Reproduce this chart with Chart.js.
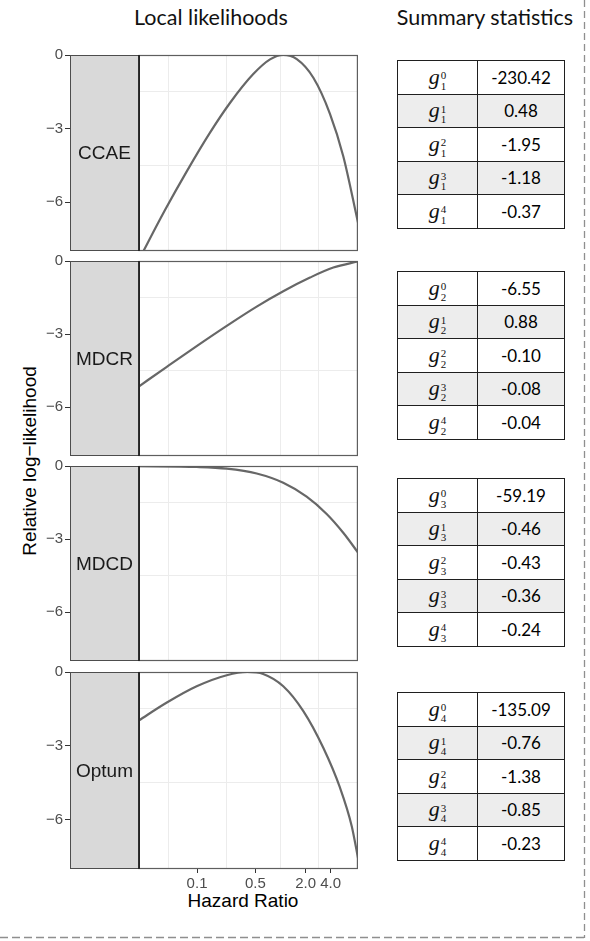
<!DOCTYPE html>
<html>
<head>
<meta charset="utf-8">
<title>Local likelihoods</title>
<script src="https://cdn.jsdelivr.net/npm/chart.js@4.4.0/dist/chart.umd.min.js"></script>
<style>
  html, body { margin: 0; padding: 0; background: #fff; }
  #figure { position: relative; width: 590px; height: 941px; overflow: hidden; }
  .title { position: absolute; top: 2px; width: 220px; text-align: center;
           font-family: Lato, "Open Sans", sans-serif; font-size: 21.5px; color: #111; line-height: 30px; }
  .ytitle { position: absolute; left: 30px; top: 461px; width: 300px; margin-left: -150px; margin-top: -12px;
            text-align: center; transform: rotate(-90deg); line-height: 24px;
            font-family: "Liberation Sans", Arial, sans-serif; font-size: 19px; color: #000; }
  .xtitle { position: absolute; left: 143px; top: 889px; width: 200px; text-align: center; line-height: 24px;
            font-family: "Liberation Sans", Arial, sans-serif; font-size: 19px; color: #000; }
  .panel { position: absolute; left: 0; }
  .stats { position: absolute; left: 397px; width: 167px; border-collapse: collapse; table-layout: fixed; }
  .stats td { border: 1.5px solid #1f1f1f; height: 32.5px; padding: 0; text-align: center; vertical-align: middle; }
  .stats tbody tr:nth-child(even) td { background: #ededed; }
  .stats td.val { font-family: Lato, "Open Sans", sans-serif; font-size: 17px; color: #000; }
  .gsym { font-family: "Liberation Serif", "DejaVu Serif", serif; font-size: 22px; color: #111; white-space: nowrap; }
  .gsym i { font-style: italic; }
  .idx { display: inline-block; vertical-align: -6px; font-size: 11px; line-height: 10.5px; margin-left: 1px; text-align: left; }
  .idx span { display: block; }
  #dashes { position: absolute; left: 0; top: 0; }
</style>
</head>
<body>
<div id="figure">
  <div class="title" style="left:101px">Local likelihoods</div>
  <div class="title" style="left:375px">Summary statistics</div>
  <div class="ytitle">Relative log&minus;likelihood</div>
  <div class="xtitle">Hazard Ratio</div>
  <svg id="dashes" width="590" height="941">
    <line x1="584.5" y1="0" x2="584.5" y2="938" stroke="#8f8f8f" stroke-width="1.3" stroke-dasharray="7 4"/>
    <line x1="0" y1="937.5" x2="585" y2="937.5" stroke="#8f8f8f" stroke-width="1.3" stroke-dasharray="8 4"/>
  </svg>
</div>
<script>
// databases (one panel + one table each)
const databases = ['CCAE', 'MDCR', 'MDCD', 'Optum'];

// local log-likelihood curves (hazard ratio, relative log-likelihood)
const ccaeHR = [0.02, 0.041, 0.075, 0.143, 0.248, 0.472, 0.75, 1.08, 1.57, 2.48, 3.92, 5.67, 8.5];
const ccaeLL = [-8.37, -6.35, -4.76, -3.17, -1.96, -0.78, -0.18, 0, -0.17, -0.93, -2.4, -4.14, -6.84];

const mdcrHR = [0.02, 0.043, 0.099, 0.227, 0.519, 1.08, 2.26, 4.3, 8.5];
const mdcrLL = [-5.15, -4.35, -3.49, -2.66, -1.87, -1.24, -0.68, -0.27, -0.02];

const mdcdHR = [0.02, 0.099, 0.227, 0.519, 1.08, 2.06, 3.58, 5.72, 8.5];
const mdcdLL = [-0.01, -0.04, -0.11, -0.31, -0.69, -1.26, -1.97, -2.76, -3.55];

const optumHR = [0.02, 0.043, 0.099, 0.227, 0.4, 0.62, 1.08, 1.88, 3.26, 5.17, 7.14, 8.5];
const optumLL = [-1.97, -1.25, -0.58, -0.13, 0, -0.08, -0.58, -1.59, -3.08, -4.7, -6.25, -7.55];

// summary statistics g^0 .. g^4 per database
const statsCCAE = [-230.42, 0.48, -1.95, -1.18, -0.37];
const statsMDCR = [-6.55, 0.88, -0.10, -0.08, -0.04];
const statsMDCD = [-59.19, -0.46, -0.43, -0.36, -0.24];
const statsOptum = [-135.09, -0.76, -1.38, -0.85, -0.23];

// axes
const hrTicks = [0.1, 0.5, 2, 4];
const hrMinorGrid = [0.045, 0.224, 1, 2.83];
const llTicks = [0, -3, -6];
const llMinorGrid = [-1.5, -4.5];

const curves = [
    [ccaeHR, ccaeLL],
    [mdcrHR, mdcrLL],
    [mdcdHR, mdcdLL],
    [optumHR, optumLL]
];
const stats = [statsCCAE, statsMDCR, statsMDCD, statsOptum];

// layout
const HR_MIN = 0.003;      // left end of the strip
const HR_DATA_MIN = 0.02;  // where the plotting panel starts
const HR_MAX = 8.5;
const panelTops = [54, 260, 465, 671];
const panelHeights = [198, 197, 197, 198];
const tableTops = [60, 271, 478, 692];

const FONT = '"Liberation Sans", Arial, sans-serif';

const stripPlugin = {
    id: 'strip',
    afterDatasetsDraw(chart, args, opts) {
        const { ctx, chartArea: a } = chart;
        const sx = Math.round(chart.scales.x.getPixelForValue(HR_DATA_MIN));
        ctx.save();
        // grey strip with the database name
        ctx.fillStyle = '#d9d9d9';
        ctx.fillRect(a.left, a.top, sx - a.left, a.bottom - a.top);
        ctx.strokeStyle = '#4d4d4d';
        ctx.lineWidth = 1;
        ctx.strokeRect(a.left + 0.5, a.top + 0.5, sx - a.left, a.bottom - a.top - 1);
        // panel border
        ctx.strokeStyle = '#5e5e5e';
        ctx.lineWidth = 1.2;
        ctx.strokeRect(sx, a.top + 0.5, a.right - sx - 0.6, a.bottom - a.top - 1);
        // dark edge between strip and panel
        ctx.strokeStyle = '#1a1a1a';
        ctx.lineWidth = 1.6;
        ctx.beginPath();
        ctx.moveTo(sx, a.top);
        ctx.lineTo(sx, a.bottom);
        ctx.stroke();

        ctx.fillStyle = '#1a1a1a';
        ctx.font = '19px ' + FONT;
        ctx.textAlign = 'center';
        ctx.textBaseline = 'middle';
        ctx.fillText(opts.label, (a.left + sx) / 2, (a.top + a.bottom) / 2 + 1);
        ctx.restore();
    }
};

function makePanel(i) {
    const isBottom = i === databases.length - 1;
    const padTop = 10;
    const padBottom = isBottom ? 0 : 10;
    const axisH = isBottom ? 30 : 0;

    const holder = document.createElement('div');
    holder.className = 'panel';
    holder.style.top = (panelTops[i] - padTop) + 'px';
    const canvas = document.createElement('canvas');
    canvas.width = 362;
    canvas.height = panelHeights[i] + padTop + padBottom + axisH;
    holder.appendChild(canvas);
    document.getElementById('figure').appendChild(holder);

    const [hrs, lls] = curves[i];
    const xGrid = [...hrMinorGrid, ...hrTicks].sort((p, q) => p - q);
    const yGrid = [...llMinorGrid, ...llTicks].sort((p, q) => p - q);

    return new Chart(canvas, {
        type: 'line',
        data: {
            datasets: [{
                data: hrs.map((h, k) => ({ x: h, y: lls[k] })),
                borderColor: '#676767',
                borderWidth: 2.2,
                pointRadius: 0,
                cubicInterpolationMode: 'monotone',
                clip: 0
            }]
        },
        options: {
            responsive: false,
            animation: false,
            events: [],
            layout: { padding: { top: padTop, right: 4, bottom: padBottom, left: 0 } },
            plugins: {
                legend: { display: false },
                tooltip: { enabled: false },
                strip: { label: databases[i] }
            },
            scales: {
                x: {
                    type: 'logarithmic',
                    min: HR_MIN,
                    max: HR_MAX,
                    afterBuildTicks: (s) => { s.ticks = xGrid.map(v => ({ value: v })); },
                    afterFit: (s) => { s.height = axisH; },
                    border: { display: false },
                    grid: {
                        color: (c) => (c.tick && hrMinorGrid.includes(c.tick.value)) ? '#ececec' : 'rgba(0,0,0,0)',
                        tickColor: (c) => (c.tick && hrTicks.includes(c.tick.value)) ? '#333333' : 'rgba(0,0,0,0)',
                        tickLength: isBottom ? 4 : 0,
                        lineWidth: 1
                    },
                    ticks: {
                        display: isBottom,
                        autoSkip: false,
                        maxRotation: 0,
                        minRotation: 0,
                        padding: 2,
                        color: '#4d4d4d',
                        font: { family: FONT, size: 15 },
                        callback: (v) => hrTicks.includes(v) ? v.toFixed(1) : ''
                    }
                },
                y: {
                    type: 'linear',
                    min: -8,
                    max: 0,
                    afterBuildTicks: (s) => { s.ticks = yGrid.map(v => ({ value: v })); },
                    afterFit: (s) => { s.width = 70; },
                    border: { display: false },
                    grid: {
                        color: (c) => (c.tick && llMinorGrid.includes(c.tick.value)) ? '#ececec' : 'rgba(0,0,0,0)',
                        tickColor: (c) => (c.tick && llTicks.includes(c.tick.value)) ? '#333333' : 'rgba(0,0,0,0)',
                        tickLength: 5,
                        lineWidth: 1
                    },
                    ticks: {
                        autoSkip: false,
                        padding: 2,
                        color: '#4d4d4d',
                        font: { family: FONT, size: 15 },
                        callback: (v) => llTicks.includes(v) ? String(v).replace('-', '\u2212') : ''
                    }
                }
            }
        },
        plugins: [stripPlugin]
    });
}

function makeTable(i) {
    const table = document.createElement('table');
    table.className = 'stats';
    table.style.top = tableTops[i] + 'px';
    table.innerHTML = '<colgroup><col style="width:80px"><col style="width:87px"></colgroup>';
    const body = document.createElement('tbody');
    stats[i].forEach((v, k) => {
        const tr = document.createElement('tr');
        tr.innerHTML = `
            <td><span class="gsym"><i>g</i><span class="idx"><span>${k}</span><span>${i + 1}</span></span></span></td>
            <td class="val">${v.toFixed(2)}</td>`;
        body.appendChild(tr);
    });
    table.appendChild(body);
    document.getElementById('figure').appendChild(table);
}

databases.forEach((name, i) => {
    makePanel(i);
    makeTable(i);
});
</script>
</body>
</html>
